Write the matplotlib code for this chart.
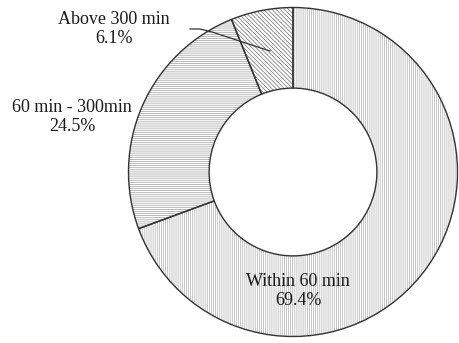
import matplotlib.pyplot as plt

labels = ["Within 60 min", "60 min - 300min", "Above 300 min"]
shares = [69.4, 24.5, 6.1]
hatches = ["||||||||", "--------", "\\\\\\\\\\\\\\\\"]
hatch_colors = ["#b0b0b0", "#a0a0a0", "#707070"]

plt.rcParams["font.family"] = ["Liberation Serif", "DejaVu Serif"]
plt.rcParams["hatch.linewidth"] = 0.5

fig = plt.figure(figsize=(4.6, 3.43), dpi=100)
ax = fig.add_axes([0, 0, 1, 1])

center = (293, 171)
radius = 164.5
ring = 0.49

# hatched fills first, then the outlines on top
wedges, _ = ax.pie(shares, center=center, radius=radius, startangle=90,
                   counterclock=False, frame=True,
                   wedgeprops=dict(width=radius * ring, facecolor="white",
                                   linewidth=0))
for w, h, c in zip(wedges, hatches, hatch_colors):
    w.set_hatch(h)
    w.set_edgecolor(c)

ax.pie(shares, center=center, radius=radius, startangle=90,
       counterclock=False, frame=True,
       wedgeprops=dict(width=radius * ring, fill=False,
                       edgecolor="#333333", linewidth=1.0))
ax.set_xlim(0, 460)
ax.set_ylim(0, 343)
ax.set_aspect("equal")
ax.axis("off")

fs = 13
ax.text(298, 52, f"{labels[0]}\n{shares[0]}%", ha="center", va="center",
        fontsize=fs, linespacing=1.2, color="#1a1a1a")
ax.text(72, 226, f"{labels[1]}\n{shares[1]}%", ha="center", va="center",
        fontsize=fs, linespacing=1.2, color="#1a1a1a")
ax.text(114, 314, f"{labels[2]}\n{shares[2]}%", ha="center", va="center",
        fontsize=fs, linespacing=1.2, color="#1a1a1a")

# leader line for the small slice
ax.plot([190, 200, 212, 270], [314, 314, 311, 292], color="#333333", lw=0.9)

fig.savefig("out.png", dpi=100)
